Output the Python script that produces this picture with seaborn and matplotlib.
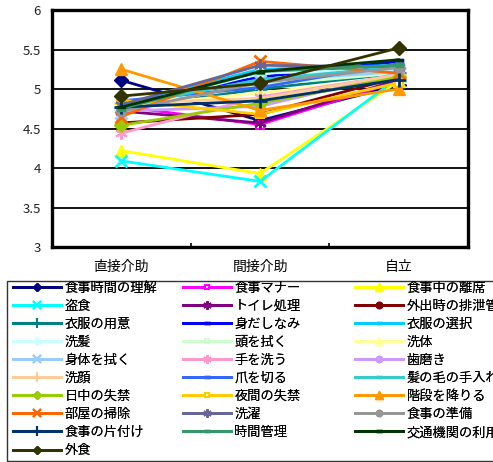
import matplotlib
matplotlib.use("Agg")
import matplotlib.pyplot as plt
import pandas as pd
import seaborn as sns
from matplotlib.lines import Line2D
from matplotlib.patches import Rectangle

categories = ["直接介助", "間接介助", "自立"]

items = [
    "食事時間の理解", "食事マナー", "食事中の離席",
    "盗食", "トイレ処理", "外出時の排泄管理",
    "衣服の用意", "身だしなみ", "衣服の選択",
    "洗髪", "頭を拭く", "洗体",
    "身体を拭く", "手を洗う", "歯磨き",
    "洗顔", "爪を切る", "髪の毛の手入れ",
    "日中の失禁", "夜間の失禁", "階段を降りる",
    "部屋の掃除", "洗濯", "食事の準備",
    "食事の片付け", "時間管理", "交通機関の利用",
    "外食",
]

direct_care = [
    5.11, 4.78, 4.22,
    4.09, 4.72, 4.57,
    4.75, 4.82, 4.80,
    4.75, 4.80, 4.78,
    4.70, 4.44, 4.72,
    4.82, 4.85, 4.78,
    4.54, 4.86, 5.25,
    4.65, 4.80, 4.72,
    4.77, 4.75, 4.77,
    4.91,
]

indirect_care = [
    4.60, 4.55, 3.93,
    3.83, 4.57, 4.68,
    5.00, 5.15, 5.25,
    5.20, 5.05, 4.95,
    5.10, 4.90, 4.78,
    4.88, 5.02, 5.12,
    4.82, 4.68, 4.73,
    5.35, 5.30, 5.08,
    4.85, 5.22, 5.22,
    5.07,
]

independent = [
    5.05, 5.10, 5.10,
    5.15, 5.12, 5.15,
    5.20, 5.35, 5.30,
    5.25, 5.20, 5.15,
    5.22, 5.18, 5.20,
    5.18, 5.32, 5.28,
    5.15, 5.08, 5.00,
    5.20, 5.28, 5.27,
    5.12, 5.30, 5.37,
    5.52,
]

y_ticks = [3, 3.5, 4, 4.5, 5, 5.5, 6]

# Series colours (classic office palette)
colors = [
    "#000080", "#FF00FF", "#FFFF00",
    "#00FFFF", "#800080", "#800000",
    "#008080", "#0000FF", "#00CCFF",
    "#CCFFFF", "#CCFFCC", "#FFFF99",
    "#99CCFF", "#FF99CC", "#CC99FF",
    "#FFCC99", "#3366FF", "#33CCCC",
    "#99CC00", "#FFCC00", "#FF9900",
    "#FF6600", "#666699", "#969696",
    "#003366", "#339966", "#003300",
    "#333300",
]

short_bar = [(-1, -0.45), (1, -0.45), (1, 0.45), (-1, 0.45)]
long_bar = [(-1.6, -0.4), (1.6, -0.4), (1.6, 0.4), (-1.6, 0.4)]

# marker cycle of nine styles: (marker, size, edge width, hollow)
marker_cycle = [
    ("D", 7, 1.0, False),
    ("s", 5.5, 1.5, True),
    ("^", 8, 1.0, False),
    ("x", 8, 2.0, False),
    ((6, 2, 0), 9, 1.5, False),
    ("o", 7, 1.0, False),
    ("+", 10, 2.0, False),
    (short_bar, 6, 1.0, False),
    (long_bar, 6, 1.0, False),
]

plt.rcParams["font.family"] = ["Noto Sans CJK JP", "DejaVu Sans"]

fig = plt.figure(figsize=(4.93, 4.62), dpi=100)
W, H = 493, 462
ax = fig.add_axes([52 / W, 1 - 247 / H, (468 - 52) / W, (247 - 10) / H])

df = pd.DataFrame({
    "item": [name for name in items for _ in categories],
    "category": categories * len(items),
    "score": [v for trio in zip(direct_care, indirect_care, independent) for v in trio],
})

handles = []
for i, name in enumerate(items):
    m, ms, mew, hollow = marker_cycle[i % len(marker_cycle)]
    col = colors[i]
    mfc = "white" if hollow else col
    sns.lineplot(
        data=df[df["item"] == name], x="category", y="score",
        color=col, linewidth=2.0, marker=m, markersize=ms,
        markeredgewidth=mew, markerfacecolor=mfc, markeredgecolor=col,
        errorbar=None, sort=False, ax=ax, legend=False,
    )
    handles.append(Line2D([], [], color=col, linewidth=2.0, marker=m,
                          markersize=ms * 0.65, markeredgewidth=min(mew, 1.5),
                          markerfacecolor=mfc, markeredgecolor=col))

ax.set_xlim(-0.5, 2.5)
ax.set_ylim(3, 6)
ax.set_yticks(y_ticks)
ax.set_yticklabels([f"{t:g}" for t in y_ticks], fontsize=9.5, color="#222222")
ax.set_xticks(range(len(categories)))
ax.set_xticklabels(categories, fontsize=10)
ax.set_xticks([0.5, 1.5], minor=True)
ax.tick_params(axis="x", which="major", length=0, pad=9)
ax.tick_params(axis="x", which="minor", direction="in", length=3, width=1.2)
ax.tick_params(axis="y", length=0, pad=8)
ax.set_xlabel("")
ax.set_ylabel("")
for y in y_ticks[1:-1]:
    ax.axhline(y, color="#111111", linewidth=1.4, zorder=0)
for sp in ax.spines.values():
    sp.set_linewidth(2.4)
    sp.set_color("black")

# Legend: three columns filled row by row, inside a shared frame
fig.add_artist(Rectangle((7 / W, 1 - 461 / H), 1.0, (461 - 281) / H,
                         transform=fig.transFigure, fill=False,
                         edgecolor="#333333", linewidth=1.0))
col_x = [13, 183, 355]
for c in range(3):
    idx = list(range(c, len(items), 3))
    lg = fig.legend([handles[k] for k in idx], [items[k] for k in idx],
                    loc="upper left", bbox_to_anchor=(col_x[c] / W, 1 - 282 / H),
                    frameon=False, fontsize=9.5, handlelength=3.6,
                    handletextpad=0.3, labelspacing=0.38, borderpad=0,
                    borderaxespad=0)
    fig.add_artist(lg)

fig.savefig("out.png", dpi=100)
